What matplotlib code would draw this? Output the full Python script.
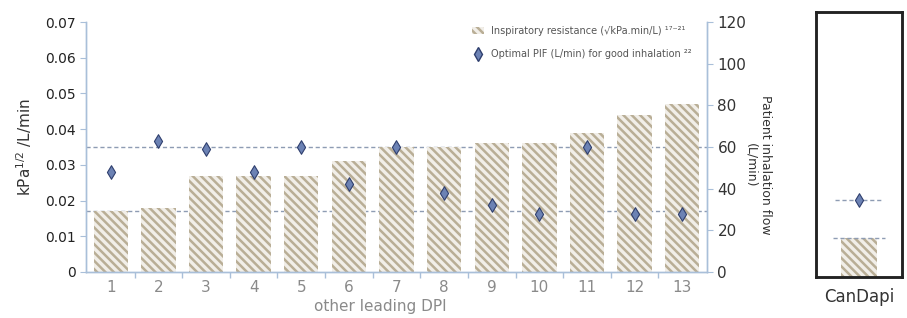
import matplotlib.pyplot as plt
from matplotlib.patches import Patch
from matplotlib.lines import Line2D

plt.rcParams['hatch.linewidth'] = 1.8

# data
dpi_labels = ['1', '2', '3', '4', '5', '6', '7', '8', '9', '10', '11', '12', '13']
resistance = [0.017, 0.018, 0.027, 0.027, 0.027, 0.031, 0.035, 0.035, 0.036, 0.036, 0.039, 0.044, 0.047]
optimal_pif = [48, 63, 59, 48, 60, 42, 60, 38, 32, 28, 60, 28, 28]
ref_lines = [0.035, 0.017]

candapi_resistance = 0.011
candapi_pif = 37

spine_col = '#a9bfd9'
hatch_col = '#b9ae96'
face_col = '#f1eee8'
dash_col = '#8e9cb3'
diamond_face = '#6c82b4'
diamond_edge = '#2f3f6e'
hatch = '\\\\\\\\'

fig = plt.figure(figsize=(9.07, 3.18), dpi=100)

# main chart
ax = fig.add_axes([0.0948, 0.1447, 0.6847, 0.7861])
ax2 = ax.twinx()
x = list(range(1, len(dpi_labels) + 1))

ax.bar(x, resistance, width=0.72, color=face_col, edgecolor=hatch_col,
       hatch=hatch, linewidth=0, zorder=2)
for y in ref_lines:
    ax.axhline(y, color=dash_col, linestyle=(0, (3, 2)), linewidth=1, zorder=1)
ax2.scatter(x, optimal_pif, marker='d', s=48, color=diamond_face,
            edgecolor=diamond_edge, linewidth=0.8, zorder=4)

ax.set_xlim(0.48, 13.52)
ax.set_ylim(0, 0.07)
ax2.set_ylim(0, 120)
ax.set_yticks([0, 0.01, 0.02, 0.03, 0.04, 0.05, 0.06, 0.07])
ax.set_yticklabels(['0', '0.01', '0.02', '0.03', '0.04', '0.05', '0.06', '0.07'])
ax2.set_yticks([0, 20, 40, 60, 80, 100, 120])

ax.set_xticks(x)
ax.set_xticklabels(dpi_labels)
ax.set_xticks([i + 0.5 for i in x[:-1]], minor=True)
ax.tick_params(axis='x', which='major', length=0, pad=6, labelsize=11, labelcolor='#8a8a8a')
ax.tick_params(axis='x', which='minor', length=4, color=spine_col, width=1)
ax.tick_params(axis='y', length=4, color=spine_col, labelsize=10, labelcolor='#222222')
ax2.tick_params(axis='y', length=4, color=spine_col, labelsize=11, labelcolor='#333333')

for a in (ax, ax2):
    a.spines['top'].set_visible(False)
    for s in ('left', 'right', 'bottom'):
        a.spines[s].set_color(spine_col)
        a.spines[s].set_linewidth(1)

ax.set_ylabel('kPa$^{1/2}$ /L/min', fontsize=11, color='#333333', labelpad=8)
fig.text(380 / 907, 1 - 307 / 318, 'other leading DPI', fontsize=11,
         color='#8a8a8a', ha='center', va='center')
fig.text(758 / 907, 1 - 165 / 318, 'Patient inhalation flow\n(L/min)', fontsize=9,
         color='#333333', rotation=270, ha='center', va='center')

handles = [
    Patch(facecolor=face_col, edgecolor=hatch_col, hatch=hatch, linewidth=0),
    Line2D([], [], marker='d', linestyle='none', markersize=7,
           markerfacecolor=diamond_face, markeredgecolor=diamond_edge),
]
labels = ['Inspiratory resistance (√kPa.min/L) ¹⁷⁻²¹',
          'Optimal PIF (L/min) for good inhalation ²²']
leg = ax2.legend(handles, labels, loc='upper right', bbox_to_anchor=(0.99, 1.02),
                 frameon=False, fontsize=7, labelspacing=1.4, handlelength=1.2,
                 handletextpad=0.8)
for t in leg.get_texts():
    t.set_color('#555555')

# CanDapi panel
bx = fig.add_axes([816 / 907, 1 - 277 / 318, 86 / 907, 265 / 318])
bx2 = bx.twinx()
ylim_top = 0.07 * 265 / 250
bx.bar([0], [candapi_resistance], width=0.41, color=face_col, edgecolor=hatch_col,
       hatch=hatch, linewidth=0, zorder=2)
bx.hlines(candapi_resistance, -0.3, 0.3, color=dash_col, linestyle=(0, (3, 2)), linewidth=1)
bx2.hlines(candapi_pif, -0.28, 0.28, color=dash_col, linestyle=(0, (3, 2)), linewidth=1)
bx2.scatter([0], [candapi_pif], marker='d', s=48, color=diamond_face,
            edgecolor=diamond_edge, linewidth=0.8, zorder=4)
bx.set_xlim(-0.5, 0.5)
bx.set_ylim(0, ylim_top)
bx2.set_ylim(0, ylim_top * 120 / 0.07)
bx.set_xticks([0])
bx.set_xticklabels(['CanDapi'])
bx.tick_params(axis='x', length=0, pad=8, labelsize=12, labelcolor='#333333')
bx.set_yticks([])
bx2.set_yticks([])
for a in (bx, bx2):
    for s in a.spines.values():
        s.set_color('#222222')
        s.set_linewidth(1.8)

fig.savefig('out.png', dpi=100)
